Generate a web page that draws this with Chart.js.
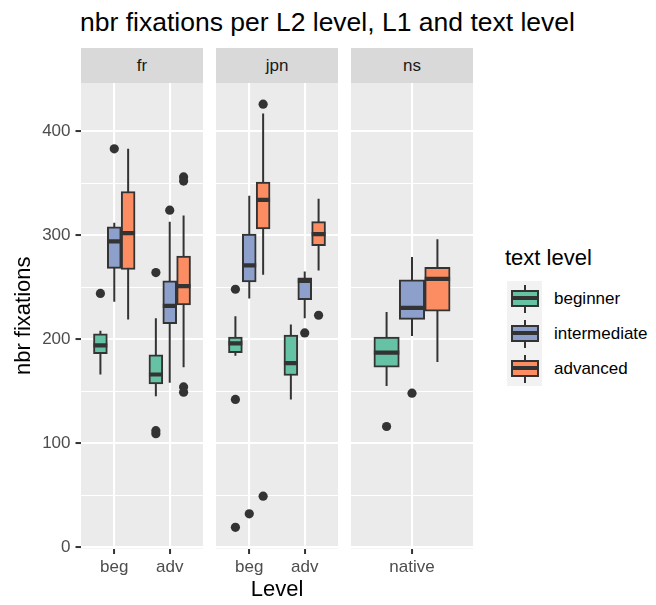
<!DOCTYPE html>
<html>
<head>
<meta charset="utf-8">
<title>nbr fixations per L2 level, L1 and text level</title>
<script src="https://cdn.jsdelivr.net/npm/chart.js@4.4.1/dist/chart.umd.min.js"></script>
<style>
  html, body { margin: 0; padding: 0; background: #FFFFFF; }
  body {
    position: relative; width: 656px; height: 605px; overflow: hidden;
    font-family: 'Liberation Sans', Arial, Helvetica, sans-serif;
  }
  #plotTitle {
    position: absolute; left: 80px; top: 9px; font-size: 26.5px; line-height: 1;
    color: #000000; white-space: nowrap;
  }
  .strip {
    position: absolute; top: 48px; height: 35px; background: #D9D9D9; color: #1A1A1A;
    font-size: 17px; display: flex; align-items: center; justify-content: center;
  }
  canvas { position: absolute; top: 83px; }
  #legend { position: absolute; left: 505px; top: 247px; }
  #legend .ltitle { font-size: 22px; line-height: 1; color: #000000; white-space: nowrap; margin-bottom: 12px; }
  #legend .row { display: flex; align-items: center; height: 35px; margin-left: 2px; }
  #legend .key { position: relative; width: 35px; height: 35px; background: #F2F2F2; }
  #legend .whisker { position: absolute; left: 16.5px; top: 3.5px; width: 2px; height: 28px; background: #333333; }
  #legend .box {
    position: absolute; left: 3.5px; top: 8.6px; width: 28px; height: 17.6px;
    box-sizing: border-box; border: 2px solid #333333;
  }
  #legend .median { position: absolute; left: 3.5px; top: 15.4px; width: 28px; height: 4px; background: #333333; }
  #legend .lab { font-size: 17px; line-height: 1; color: #000000; margin-left: 12px; white-space: nowrap; }
</style>
</head>
<body>
<div id="plotTitle">nbr fixations per L2 level, L1 and text level</div>
<div class="strip" id="stripFr" style="left:81px;width:122px;"></div>
<div class="strip" id="stripJpn" style="left:216px;width:122px;"></div>
<div class="strip" id="stripNs" style="left:351px;width:122px;"></div>
<canvas id="panelFr" width="203" height="522" style="left:0px;"></canvas>
<canvas id="panelJpn" width="122" height="522" style="left:216px;"></canvas>
<canvas id="panelNs" width="122" height="522" style="left:351px;"></canvas>
<div id="legend"></div>

<script>
// ---- data -------------------------------------------------------------
const firstLanguages = ['fr', 'jpn', 'ns'];
const textLevels = ['beginner', 'intermediate', 'advanced'];
const levelColors = ['#66C2A5', '#8DA0CB', '#FC8D62'];
const yTickLabels = [0, 100, 200, 300, 400];

// Box statistics per Level: [lower whisker, Q1, median, Q3, upper whisker]
const frLevels = ['beg', 'adv'];
const frBeginner     = [[166, 186, 194, 205, 208], [145, 157, 166, 185, 220]];
const frIntermediate = [[236, 268, 294, 308, 312], [158, 215, 232, 256, 313]];
const frAdvanced     = [[219, 267, 302, 342, 383], [173, 233, 251, 280, 319]];
const frBeginnerOut     = [[244], [264, 112, 109]];
const frIntermediateOut = [[383], [324]];
const frAdvancedOut     = [[], [356, 352, 154, 149]];

const jpnLevels = ['beg', 'adv'];
const jpnBeginner     = [[184, 187, 196, 202, 222], [142, 165, 177, 204, 214]];
const jpnIntermediate = [[239, 255, 271, 301, 338], [220, 238, 256, 259, 265]];
const jpnAdvanced     = [[262, 306, 334, 351, 417], [266, 290, 301, 313, 335]];
const jpnBeginnerOut     = [[248, 142, 19], []];
const jpnIntermediateOut = [[32], [206]];
const jpnAdvancedOut     = [[426, 49], [223]];

const nsLevels = ['native'];
const nsBeginner     = [[155, 173, 187, 202, 226]];
const nsIntermediate = [[203, 219, 230, 257, 279]];
const nsAdvanced     = [[178, 227, 258, 269, 296]];
const nsBeginnerOut     = [[116]];
const nsIntermediateOut = [[148]];
const nsAdvancedOut     = [[]];

// ---- styling ----------------------------------------------------------
const INK = '#333333';
const DODGE = 0.25;          // width of one dodged box, in Level units
const Y_AXIS_W = 81;         // left axis band of the first panel
const X_AXIS_H = 56.5;       // bottom axis band of every panel

Chart.defaults.font.family = "'Liberation Sans', Arial, Helvetica, sans-serif";
Chart.defaults.color = '#4D4D4D';

// shared y range: data extent plus 5% on both sides
const allValues = [
  frBeginner, frIntermediate, frAdvanced, frBeginnerOut, frIntermediateOut, frAdvancedOut,
  jpnBeginner, jpnIntermediate, jpnAdvanced, jpnBeginnerOut, jpnIntermediateOut, jpnAdvancedOut,
  nsBeginner, nsIntermediate, nsAdvanced, nsBeginnerOut, nsIntermediateOut, nsAdvancedOut
].flat(2);
const dataLo = Math.min(...allValues);
const dataHi = Math.max(...allValues);
const yPad = (dataHi - dataLo) * 0.05;
const yMin = dataLo - yPad;
const yMax = dataHi + yPad;

// major breaks plus the minor breaks halfway between them
const yGridValues = [];
yTickLabels.forEach((v, i) => {
  yGridValues.push(v);
  const next = i + 1 < yTickLabels.length ? yTickLabels[i + 1] : v + (v - yTickLabels[i - 1]);
  const mid = (v + next) / 2;
  if (mid <= yMax) yGridValues.push(mid);
});

// grey panel background behind the grid
const panelBackground = {
  id: 'panelBackground',
  beforeDraw(chart) {
    const { ctx, chartArea: a } = chart;
    ctx.save();
    ctx.fillStyle = '#EBEBEB';
    ctx.fillRect(a.left, a.top, a.right - a.left, a.bottom - a.top);
    ctx.restore();
  }
};

function buildDatasets(series, outliers) {
  const whiskers = [], medians = [], points = [];
  const boxes = series.map((rows, g) => ({
    type: 'bar',
    label: textLevels[g],
    order: 2,
    data: rows.map((s, i) => ({ x: i + 1 + (g - 1) * DODGE, y: [s[1], s[3]] })),
    backgroundColor: levelColors[g],
    borderColor: INK,
    borderWidth: 2,
    borderSkipped: false,
    grouped: false,
    categoryPercentage: 1,
    barPercentage: 1
  }));
  series.forEach((rows, g) => rows.forEach((s, i) => {
    const x = i + 1 + (g - 1) * DODGE;
    whiskers.push({ x, y: s[0] }, { x, y: s[4] }, { x, y: null });
    medians.push({ x: x - DODGE / 2, y: s[2] }, { x: x + DODGE / 2, y: s[2] }, { x, y: null });
    outliers[g][i].forEach(v => points.push({ x, y: v }));
  }));
  return [
    { type: 'line', label: 'whiskers', order: 3, data: whiskers, borderColor: INK,
      borderWidth: 2, pointRadius: 0, spanGaps: false, fill: false },
    ...boxes,
    { type: 'line', label: 'medians', order: 1, data: medians, borderColor: INK,
      borderWidth: 4.2, pointRadius: 0, spanGaps: false, fill: false, borderCapStyle: 'butt' },
    { type: 'line', label: 'outliers', order: 0, data: points, showLine: false,
      pointRadius: 4.6, pointBackgroundColor: INK, pointBorderWidth: 0, borderColor: INK }
  ];
}

function makePanel(canvasId, levels, series, outliers, withYAxis, xTitle) {
  const isMajor = v => yTickLabels.includes(v);
  return new Chart(document.getElementById(canvasId), {
    type: 'bar',
    data: { datasets: buildDatasets(series, outliers) },
    options: {
      responsive: false,
      animation: false,
      events: [],
      layout: { padding: 0, autoPadding: false },
      plugins: { legend: { display: false }, tooltip: { enabled: false }, title: { display: false } },
      scales: {
        x: {
          type: 'linear',
          min: 0.4,
          max: levels.length + 0.6,
          offset: false,
          afterBuildTicks: s => { s.ticks = levels.map((l, i) => ({ value: i + 1 })); },
          ticks: {
            callback: (v, i) => levels[i],
            color: '#4D4D4D', font: { size: 17 }, padding: 3,
            maxRotation: 0, autoSkip: false
          },
          grid: {
            color: '#FFFFFF', lineWidth: 2.1, offset: false,
            drawTicks: true, tickLength: 5.5, tickColor: INK, tickWidth: 2
          },
          border: { display: false },
          title: {
            display: !!xTitle, text: xTitle || '', color: '#000000',
            font: { size: 22 }, padding: { top: 0, bottom: 1.8 }
          },
          afterFit: s => { s.height = X_AXIS_H; s.paddingLeft = 0; s.paddingRight = 0; }
        },
        y: {
          min: yMin,
          max: yMax,
          afterBuildTicks: s => { s.ticks = yGridValues.map(v => ({ value: v })); },
          ticks: {
            display: withYAxis, autoSkip: false,
            callback: v => (isMajor(v) ? String(v) : ''),
            color: '#4D4D4D', font: { size: 17 }, padding: 5
          },
          grid: {
            color: '#FFFFFF',
            lineWidth: c => (c.tick && isMajor(c.tick.value) ? 2.1 : 1.05),
            drawTicks: withYAxis, tickLength: 5.5, tickWidth: 2,
            tickColor: c => (c.tick && isMajor(c.tick.value) ? INK : 'rgba(0,0,0,0)')
          },
          border: { display: false },
          title: {
            display: withYAxis, text: 'nbr fixations', color: '#000000',
            font: { size: 22 }, padding: { top: 10.8, bottom: 0 }
          },
          afterFit: s => { s.width = withYAxis ? Y_AXIS_W : 0; s.paddingTop = 0; s.paddingBottom = 0; }
        }
      }
    },
    plugins: [panelBackground]
  });
}

// ---- facets -----------------------------------------------------------
document.getElementById('stripFr').textContent = firstLanguages[0];
document.getElementById('stripJpn').textContent = firstLanguages[1];
document.getElementById('stripNs').textContent = firstLanguages[2];

makePanel('panelFr', frLevels,
  [frBeginner, frIntermediate, frAdvanced],
  [frBeginnerOut, frIntermediateOut, frAdvancedOut], true, '');
makePanel('panelJpn', jpnLevels,
  [jpnBeginner, jpnIntermediate, jpnAdvanced],
  [jpnBeginnerOut, jpnIntermediateOut, jpnAdvancedOut], false, 'Level');
makePanel('panelNs', nsLevels,
  [nsBeginner, nsIntermediate, nsAdvanced],
  [nsBeginnerOut, nsIntermediateOut, nsAdvancedOut], false, '');

// ---- legend -----------------------------------------------------------
const legend = document.getElementById('legend');
const legendTitle = document.createElement('div');
legendTitle.className = 'ltitle';
legendTitle.textContent = 'text level';
legend.appendChild(legendTitle);
textLevels.forEach((name, g) => {
  const row = document.createElement('div');
  row.className = 'row';
  row.innerHTML =
    '<div class="key"><div class="whisker"></div>' +
    '<div class="box" style="background:' + levelColors[g] + '"></div>' +
    '<div class="median"></div></div>' +
    '<div class="lab"></div>';
  row.querySelector('.lab').textContent = name;
  legend.appendChild(row);
});
</script>
</body>
</html>
